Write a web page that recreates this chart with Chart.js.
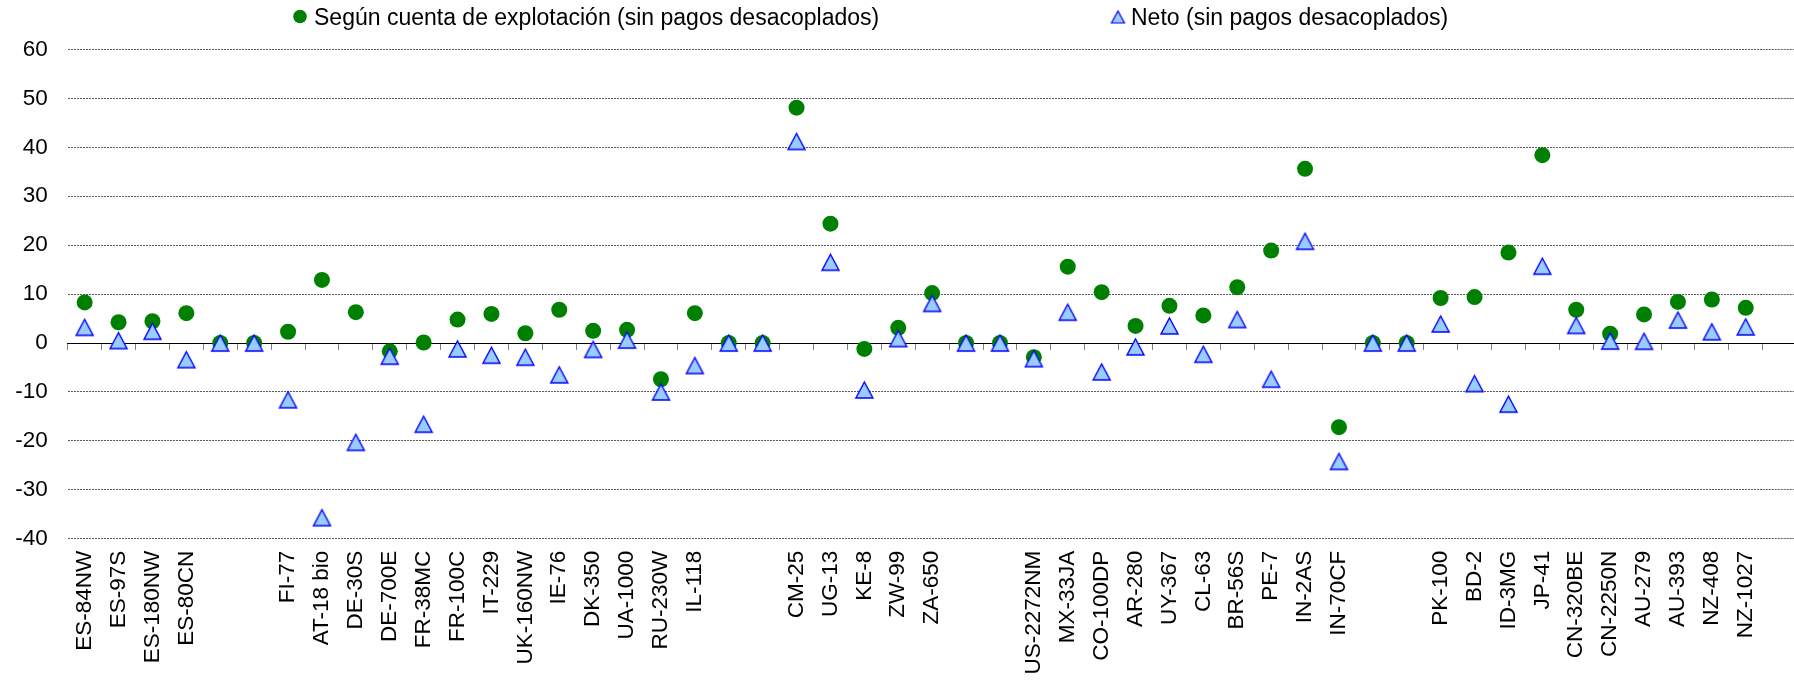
<!DOCTYPE html>
<html lang="es">
<head>
<meta charset="utf-8">
<title>Resultado por explotación</title>
<script src="https://cdn.jsdelivr.net/npm/chart.js@4.4.1/dist/chart.umd.min.js"></script>
<style>
  html, body { margin: 0; padding: 0; background: #ffffff; }
  #wrap { width: 1794px; height: 684px; }
</style>
</head>
<body>
<div id="wrap"><canvas id="chart" width="1794" height="684"></canvas></div>
<script>
// Explotaciones típicas (huecos vacíos separan las regiones)
const categories = [
  'ES-84NW', 'ES-97S', 'ES-180NW', 'ES-80CN', '', '',
  'FI-77', 'AT-18 bio', 'DE-30S', 'DE-700E', 'FR-38MC', 'FR-100C', 'IT-229',
  'UK-160NW', 'IE-76', 'DK-350', 'UA-1000', 'RU-230W', 'IL-118', '', '',
  'CM-25', 'UG-13', 'KE-8', 'ZW-99', 'ZA-650', '', '',
  'US-2272NM', 'MX-33JA', 'CO-100DP', 'AR-280', 'UY-367', 'CL-63', 'BR-56S',
  'PE-7', 'IN-2AS', 'IN-70CF', '', '',
  'PK-100', 'BD-2', 'ID-3MG', 'JP-41', 'CN-320BE', 'CN-2250N', 'AU-279',
  'AU-393', 'NZ-408', 'NZ-1027'
];

// Según cuenta de explotación (sin pagos desacoplados)
const segunCuenta = [
  8.3, 4.25, 4.45, 6.1, 0, 0,
  2.3, 12.9, 6.3, -1.7, 0.1, 4.8, 5.95,
  2.0, 6.8, 2.5, 2.7, -7.4, 6.1, 0, 0,
  48.1, 24.4, -1.2, 3.1, 10.2, 0, 0,
  -2.9, 15.6, 10.4, 3.5, 7.6, 5.65, 11.4,
  18.9, 35.6, -17.2, 0, 0,
  9.2, 9.4, 18.5, 38.4, 6.8, 1.9, 5.85,
  8.4, 8.9, 7.2
];

// Neto (sin pagos desacoplados)
const neto = [
  3.2, 0.5, 2.4, -3.4, 0, 0,
  -11.6, -35.7, -20.3, -2.7, -16.6, -1.2, -2.5,
  -2.9, -6.5, -1.3, 0.6, -10.0, -4.6, 0, 0,
  41.2, 16.5, -9.6, 0.9, 8.1, 0, 0,
  -3.2, 6.3, -5.9, -0.8, 3.5, -2.3, 4.8,
  -7.4, 20.8, -24.2, 0, 0,
  3.9, -8.3, -12.5, 15.7, 3.6, 0.4, 0.35,
  4.7, 2.3, 3.3
];

const seriesNames = [
  'Según cuenta de explotación (sin pagos desacoplados)',
  'Neto (sin pagos desacoplados)'
];

const yTicks = { min: -40, max: 60, step: 10 };

const FONT = '"Liberation Sans", Arial, sans-serif';
const GREEN = '#008000';
const TRI_FILL = '#99CCFF';
const TRI_LINE = '#0000FF';
const GRID = '#5a5a5a';
const GRID_DASH = [2, 1];

// Triangle marker drawn on its own canvas so that it sits centred on its box
function triangleMarker(w, h, lw) {
  const pad = Math.ceil(lw) + 1;
  const c = document.createElement('canvas');
  c.width = w + 2 * pad;
  c.height = h + 2 * pad;
  const g = c.getContext('2d');
  g.beginPath();
  g.moveTo(c.width / 2, pad);
  g.lineTo(pad + w, pad + h);
  g.lineTo(pad, pad + h);
  g.closePath();
  g.fillStyle = TRI_FILL;
  g.fill();
  g.lineWidth = lw;
  g.lineJoin = 'miter';
  g.strokeStyle = TRI_LINE;
  g.stroke();
  return c;
}

const triPoint = triangleMarker(17, 16, 1.4);
const triLegend = triangleMarker(13, 12, 1.2);

// Same pixel snapping Chart.js uses for 1px grid lines
function snap(p) { return Math.round(p - 0.5) + 0.5; }

// Legend row at the top of the figure
const legendRow = {
  id: 'legendRow',
  afterDraw(chart) {
    const ctx = chart.ctx;
    ctx.save();
    ctx.font = '23px ' + FONT;
    ctx.textBaseline = 'alphabetic';
    ctx.textAlign = 'left';
    // first item: green circle
    ctx.beginPath();
    ctx.arc(300, 16.5, 6.8, 0, Math.PI * 2);
    ctx.fillStyle = GREEN;
    ctx.fill();
    ctx.fillStyle = '#000000';
    ctx.fillText(seriesNames[0], 314, 25);
    // second item: blue triangle
    ctx.drawImage(triLegend, 1118 - triLegend.width / 2, 17 - triLegend.height / 2);
    ctx.fillText(seriesNames[1], 1131, 25);
    ctx.restore();
  }
};

// Horizontal grid lines continue to the right edge of the figure
const gridTail = {
  id: 'gridTail',
  beforeDatasetsDraw(chart) {
    const ctx = chart.ctx;
    const y = chart.scales.y;
    const area = chart.chartArea;
    ctx.save();
    y.ticks.forEach(t => {
      const py = snap(y.getPixelForValue(t.value));
      ctx.beginPath();
      if (t.value === 0) {
        ctx.setLineDash([]);
        ctx.strokeStyle = '#000000';
      } else {
        ctx.setLineDash(GRID_DASH);
        ctx.strokeStyle = GRID;
      }
      ctx.lineWidth = 1;
      ctx.moveTo(area.right, py);
      ctx.lineTo(chart.width, py);
      ctx.stroke();
    });
    ctx.restore();
  }
};

new Chart(document.getElementById('chart'), {
  type: 'line',
  data: {
    labels: categories,
    datasets: [
      {
        label: seriesNames[1],
        data: neto,
        showLine: false,
        pointStyle: triPoint,
        pointRadius: 8,
        pointHoverRadius: 8,
        order: 1
      },
      {
        label: seriesNames[0],
        data: segunCuenta,
        showLine: false,
        pointStyle: 'circle',
        pointRadius: 8,
        pointHoverRadius: 8,
        pointBackgroundColor: GREEN,
        pointBorderColor: GREEN,
        pointBorderWidth: 0,
        order: 2
      }
    ]
  },
  options: {
    responsive: false,
    animation: false,
    devicePixelRatio: 1,
    events: [],
    layout: { padding: { left: 0, top: 49.5, right: 31.3, bottom: 0 } },
    plugins: {
      legend: { display: false },
      tooltip: { enabled: false }
    },
    scales: {
      x: {
        type: 'category',
        position: 'bottom',
        offset: true,
        grid: { display: false, drawTicks: false },
        border: { display: false },
        ticks: {
          autoSkip: false,
          minRotation: 90,
          maxRotation: 90,
          padding: 12,
          color: '#000000',
          font: { family: FONT, size: 22.5 }
        },
        afterFit(scale) { scale.height = 684 - 538.7; }
      },
      x2: {
        type: 'category',
        axis: 'x',
        labels: categories,
        position: { y: 0 },
        offset: true,
        grid: {
          offset: true,
          drawOnChartArea: false,
          drawTicks: true,
          tickLength: 6,
          color: '#808080',
          lineWidth: 1
        },
        border: { display: true, color: '#000000', width: 1 },
        ticks: { display: false, autoSkip: false }
      },
      y: {
        min: yTicks.min,
        max: yTicks.max,
        ticks: {
          stepSize: yTicks.step,
          padding: 20,
          color: '#000000',
          font: { family: FONT, size: 22.5 }
        },
        grid: {
          drawTicks: false,
          color: ctx => (ctx.tick && ctx.tick.value === 0) ? 'rgba(0,0,0,0)' : GRID,
          lineWidth: 1
        },
        border: { display: false, dash: GRID_DASH },
        afterFit(scale) { scale.width = 67.7; }
      }
    }
  },
  plugins: [gridTail, legendRow]
});
</script>
</body>
</html>
